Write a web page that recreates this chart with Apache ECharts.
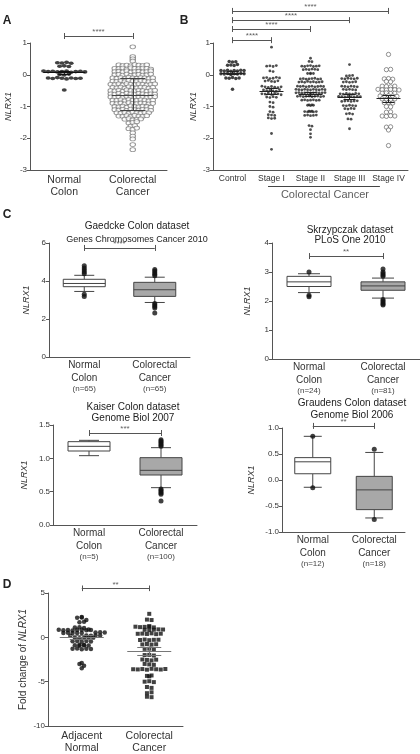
<!DOCTYPE html>
<html>
<head>
<meta charset="utf-8">
<script src="https://cdn.jsdelivr.net/npm/echarts@6/dist/echarts.min.js"></script>
<style>
html, body { margin: 0; padding: 0; background: #fff; }
#chart { width: 420px; height: 754px; }
</style>
</head>
<body>
<div id="chart"></div>
<script>
// ---- panel A
const catsA = ['Normal Colon', 'Colorectal Cancer'];
const normalA = [0.38, 0.37, 0.39, 0.36, 0.27, 0.28, 0.26, 0.12, 0.1, 0.11, 0.09, 0.1, 0.12, 0.08, 0.1, 0.11, 0.09,
  0.01, -0.01, 0.02, -0.1, -0.12, -0.09, -0.11, -0.13, -0.1, -0.12, -0.11, -0.48];
const cancerA = [
  0.88, 0.57, 0.5, 0.43,
  0.31, 0.29, 0.3, 0.28, 0.32, 0.3, 0.29, 0.31,
  0.2, 0.19, 0.21, 0.18, 0.22, 0.2, 0.19, 0.21, 0.2, 0.18,
  0.1, 0.11, 0.09, 0.12, 0.08, 0.1, 0.11, 0.09, 0.1, 0.12,
  0.0, 0.01, -0.01, 0.02, -0.02, 0.0, 0.01, -0.01, 0.0, 0.02,
  -0.1, -0.11, -0.09, -0.12, -0.08, -0.1, -0.11, -0.09, -0.1, -0.12, -0.1,
  -0.2, -0.21, -0.19, -0.22, -0.18, -0.2, -0.21, -0.19, -0.2, -0.22, -0.2,
  -0.3, -0.31, -0.29, -0.32, -0.28, -0.3, -0.31, -0.29, -0.3, -0.32, -0.3, -0.29,
  -0.4, -0.41, -0.39, -0.42, -0.38, -0.4, -0.41, -0.39, -0.4, -0.42, -0.4,
  -0.5, -0.51, -0.49, -0.52, -0.48, -0.5, -0.51, -0.49, -0.5, -0.52, -0.5, -0.49,
  -0.6, -0.61, -0.59, -0.62, -0.58, -0.6, -0.61, -0.59, -0.6, -0.62, -0.6, -0.61,
  -0.7, -0.71, -0.69, -0.72, -0.68, -0.7, -0.71, -0.69, -0.7, -0.72, -0.7, -0.69,
  -0.8, -0.81, -0.79, -0.82, -0.78, -0.8, -0.81, -0.79, -0.8, -0.82, -0.8,
  -0.9, -0.91, -0.89, -0.92, -0.88, -0.9, -0.91, -0.89, -0.9, -0.92, -0.9,
  -1.0, -1.01, -0.99, -1.02, -0.98, -1.0, -1.01, -0.99, -1.0, -1.02,
  -1.1, -1.11, -1.09, -1.12, -1.08, -1.1, -1.11, -1.09, -1.1, -1.12,
  -1.2, -1.21, -1.19, -1.22, -1.18, -1.2, -1.21, -1.19, -1.2,
  -1.3, -1.31, -1.29, -1.32, -1.28, -1.3, -1.31, -1.29,
  -1.4, -1.38, -1.42, -1.41, -1.39,
  -1.52, -1.5, -1.48, -1.62, -1.6, -1.7, -1.72, -1.68,
  -1.83, -1.93, -2.02, -2.2, -2.36
];
const meanA = [0.07, -0.63];
const lowA = [0.03, -1.13];
const highA = [0.11, -0.12];

// ---- panel B
const catsB = ['Control', 'Stage I', 'Stage II', 'Stage III', 'Stage IV'];
const controlB = [0.42, 0.4, 0.41, 0.3, 0.31, 0.29, 0.32, 0.13, 0.12, 0.14, 0.11, 0.13, 0.12, 0.14, 0.13,
  0.03, 0.02, 0.04, 0.01, 0.03, 0.02, 0.04, 0.03, -0.1, -0.11, -0.09, -0.12, -0.1, -0.46];
const stage1B = [0.87, 0.27, 0.28, 0.26, 0.29, 0.12, 0.1,
  -0.1, -0.09, -0.12, -0.11, -0.08, -0.1, -0.2, -0.18, -0.21, -0.22, -0.19,
  -0.36, -0.38, -0.4, -0.37, -0.39, -0.41, -0.38, -0.48, -0.5, -0.49, -0.51, -0.52, -0.47,
  -0.6, -0.61, -0.58, -0.62, -0.59, -0.6, -0.63, -0.7, -0.72, -0.69, -0.71,
  -0.86, -0.88, -1.0, -1.02, -1.16, -1.18, -1.26, -1.27, -1.28, -1.36, -1.38, -1.37, -1.85, -2.35];
const stage2B = [0.52, 0.42, 0.41, 0.27, 0.26, 0.28, 0.29, 0.26, 0.27, 0.28,
  0.16, 0.17, 0.16, 0.18, 0.17, 0.16, 0.04, 0.05, 0.03, 0.04,
  -0.13, -0.12, -0.14, -0.13, -0.12, -0.11, -0.14, -0.13,
  -0.23, -0.22, -0.24, -0.21, -0.23, -0.22, -0.24, -0.23, -0.22,
  -0.36, -0.37, -0.36, -0.38, -0.37, -0.36, -0.38, -0.37, -0.36, -0.37,
  -0.46, -0.47, -0.48, -0.46, -0.47, -0.48, -0.46, -0.47, -0.48, -0.46, -0.47,
  -0.57, -0.56, -0.58, -0.57, -0.56, -0.58, -0.57, -0.56, -0.58, -0.57, -0.56,
  -0.68, -0.67, -0.69, -0.68, -0.67, -0.69, -0.68, -0.67, -0.69, -0.68,
  -0.8, -0.79, -0.81, -0.8, -0.79, -0.81, -0.8,
  -0.96, -0.95, -0.97, -0.96, -0.95,
  -1.16, -1.15, -1.17, -1.16, -1.15, -1.17, -1.16,
  -1.28, -1.27, -1.29, -1.28, -1.27,
  -1.6, -1.62, -1.73, -1.86, -1.97];
const stage3B = [0.32, -0.04, -0.03, -0.02,
  -0.12, -0.13, -0.11, -0.12, -0.13, -0.11, -0.23, -0.22, -0.24, -0.23, -0.22,
  -0.36, -0.37, -0.38, -0.36, -0.37, -0.38, -0.46, -0.47, -0.46, -0.47, -0.48,
  -0.6, -0.61, -0.59, -0.6, -0.61, -0.59, -0.6,
  -0.68, -0.69, -0.7, -0.68, -0.69, -0.7, -0.68, -0.69,
  -0.84, -0.83, -0.82, -0.84, -0.83, -0.82, -0.97, -0.98, -0.96, -0.97, -0.98,
  -1.07, -1.08, -1.06, -1.07, -1.23, -1.22, -1.24, -1.39, -1.4, -1.7];
const stage4B = [0.64, 0.16, 0.17, -0.13, -0.12, -0.14, -0.21, -0.22,
  -0.36, -0.37, -0.38, -0.36, -0.46, -0.47, -0.48, -0.46, -0.47, -0.48,
  -0.58, -0.57, -0.59, -0.58, -0.67, -0.68, -0.66, -0.67, -0.68,
  -0.76, -0.77, -0.78, -0.76, -0.88, -0.87, -0.89, -1.0, -1.01, -1.18, -1.17,
  -1.3, -1.31, -1.29, -1.3, -1.65, -1.64, -1.74, -2.23];
const meanB = [0.06, -0.52, -0.62, -0.7, -0.75];
const lowB = [0.01, -0.62, -0.69, -0.78, -0.86];
const highB = [0.11, -0.42, -0.55, -0.62, -0.64];
const sigB = [1.09, 1.44, 1.72, 2.01];

// ---- panel C (box plots: min, Q1, median, Q3, max)
const catsC = ['Normal Colon', 'Colorectal Cancer'];
const gaedckeN = [65, 65];
const gaedckeBox = [[3.45, 3.7, 3.87, 4.09, 4.3], [2.87, 3.19, 3.54, 3.93, 4.2]];
const gaedckeOut = [[4.38, 4.48, 4.58, 4.68, 4.8, 3.3, 3.18], [4.28, 4.36, 4.44, 4.52, 4.6, 2.82, 2.74, 2.66, 2.58, 2.32]];
const skrzN = [24, 81];
const skrzBox = [[2.29, 2.5, 2.66, 2.85, 2.94], [2.1, 2.37, 2.52, 2.66, 2.79]];
const skrzOut = [[3.0, 2.2, 2.15], [2.85, 2.9, 2.95, 3.0, 3.1, 2.05, 2.0, 1.95, 1.9, 1.86]];
const kaiserN = [5, 100];
const kaiserBox = [[1.04, 1.11, 1.18, 1.25, 1.27], [0.56, 0.75, 0.82, 1.01, 1.16]];
const kaiserOut = [[], [1.18, 1.2, 1.22, 1.24, 1.26, 1.28, 0.54, 0.52, 0.5, 0.48, 0.46, 0.36]];
const graudensN = [12, 18];
const graudensBox = [[-0.14, 0.12, 0.35, 0.43, 0.84], [-0.73, -0.57, -0.19, 0.07, 0.53]];
const graudensOut = [[0.84, -0.15], [0.59, -0.76]];

// ---- panel D
const catsD = ['Adjacent Normal', 'Colorectal Cancer'];
const adjacentD = [2.3, 2.2, 2.25, 1.95, 1.7, 1.75, 1.1, 1.15, 1.05,
  0.85, 0.8, 0.82, 0.88, 0.78, 0.84, 0.86, 0.8, 0.83, 0.5, 0.55, 0.52, 0.48, 0.56, 0.5, 0.54, 0.49,
  0.2, 0.18, 0.22, 0.17, 0.21, -0.05, -0.1, -0.02, -0.08, -0.04, -0.45, -0.4, -0.5, -0.42, -0.48,
  -0.9, -0.85, -0.95, -0.88, -0.92, -0.87, -1.3, -1.25, -1.35, -1.28, -1.32, -2.9, -3.0, -3.2, -3.5];
const colorectalD = [2.65, 2.0, 1.95, 1.2, 1.15, 1.25, 1.18, 1.22, 1.12, 0.85, 0.9, 0.82, 0.88, 0.86,
  0.4, 0.42, 0.38, 0.45, 0.36, 0.41, -0.3, -0.25, -0.32, -0.28, -0.27, -0.8, -0.75, -0.82, -0.78,
  -1.3, -1.28, -1.33, -2.0, -1.98, -2.05, -2.5, -2.55, -2.6, -2.52, -3.0, -3.05, -3.1,
  -3.6, -3.62, -3.58, -3.65, -3.55, -3.6, -3.63, -3.57, -4.4, -4.35, -4.3, -5.0, -4.95, -5.05,
  -5.6, -5.7, -6.3, -6.2, -6.7, -6.75];
const meanD = [0.0, -1.57];
const lowD = [-0.22, -2.02];
const highD = [0.22, -1.12];

const AX = '#555';
const FONT = 'Liberation Sans, Arial, sans-serif';
const grids = [], xAxes = [], yAxes = [], series = [], graphics = [];

function panel(box, cats, yr, label, name) {
  const gi = grids.length;
  grids.push({ left: box[0], top: box[1], width: box[2], height: box[3] });
  xAxes.push({
    type: 'category', gridIndex: gi, data: cats,
    axisLine: { onZero: false, lineStyle: { color: AX } },
    axisTick: { alignWithLabel: true, length: 3, lineStyle: { color: AX } },
    axisLabel: Object.assign({ color: '#333', fontFamily: FONT, interval: 0, hideOverlap: false }, label)
  });
  xAxes.push({ type: 'value', gridIndex: gi, min: -0.5, max: cats.length - 0.5, show: false, axisLine: { onZero: false } });
  const yl = { color: '#333', fontSize: 8, margin: 3, fontFamily: FONT };
  if (yr[3]) yl.formatter = yr[3];
  yAxes.push({
    type: 'value', gridIndex: gi, min: yr[0], max: yr[1], interval: yr[2],
    axisLine: { show: true, onZero: false, lineStyle: { color: AX } },
    axisTick: { show: true, length: 3, lineStyle: { color: AX } },
    splitLine: { show: false },
    axisLabel: yl,
    name: name.text, nameLocation: 'middle', nameGap: name.gap,
    nameTextStyle: Object.assign({ color: '#333', fontSize: 9, fontStyle: 'italic', fontFamily: FONT }, name.style || {})
  });
  return { x: gi * 2 + 1, y: gi, unit: box[2] / cats.length, vpp: (yr[1] - yr[0]) / box[3] };
}

// beeswarm: values are grouped in rows of height `step` and spread sideways
function dots(p, vals, idx, step, gap, style) {
  const rows = new Map();
  vals.forEach(v => {
    const k = Math.round(v / step);
    if (!rows.has(k)) rows.set(k, []);
    rows.get(k).push(v);
  });
  const pts = [];
  rows.forEach(r => r.forEach((v, j) => pts.push([idx + (j - (r.length - 1) / 2) * gap / p.unit, v])));
  series.push(Object.assign({ type: 'scatter', xAxisIndex: p.x, yAxisIndex: p.y, data: pts, silent: true, z: 3 }, style));
}

function segs(p, list, color, width) {
  series.push({
    type: 'lines', coordinateSystem: 'cartesian2d', xAxisIndex: p.x, yAxisIndex: p.y, clip: false, silent: true, z: 5,
    lineStyle: { color: color || '#444', width: width || 1, opacity: 1 },
    data: list.map(c => ({ coords: c }))
  });
}

function label(p, x, y, text, size, dy) {
  series.push({
    type: 'scatter', xAxisIndex: p.x, yAxisIndex: p.y, clip: false, silent: true, symbolSize: 1,
    itemStyle: { color: 'rgba(0,0,0,0)' },
    label: { show: true, position: 'inside', formatter: text, fontSize: size, color: '#333', fontFamily: FONT, offset: [0, dy || 0] },
    data: [[x, y]]
  });
}

function sig(p, i1, i2, yv, stars) {
  const t = 3 * p.vpp;
  segs(p, [[[i1, yv], [i2, yv]], [[i1, yv - t], [i1, yv + t]], [[i2, yv - t], [i2, yv + t]]], '#555');
  label(p, (i1 + i2) / 2, yv, stars, 8, -4);
}

function meanBars(p, i, m, lo, hi, half, cap, color) {
  const h = half / p.unit, c = cap / p.unit;
  segs(p, [[[i - h, m], [i + h, m]], [[i, lo], [i, hi]], [[i - c, lo], [i + c, lo]], [[i - c, hi], [i + c, hi]]], color, 1);
}

// box with whiskers narrower caps (custom series, positions from the axes)
function boxes(p, stats, out, width, capW) {
  const fill = ['#ffffff', '#a8a8a8'];
  stats.forEach((s, i) => {
    series.push({
      type: 'custom', xAxisIndex: p.x, yAxisIndex: p.y, silent: true, z: 2,
      data: [[i].concat(s)],
      renderItem: (params, api) => {
        const c = [1, 2, 3, 4, 5].map(d => api.coord([api.value(0), api.value(d)]));
        const x = c[0][0], hw = width / 2, cw = capW / 2;
        const st = { stroke: '#444', lineWidth: 1 };
        const ln = (x1, y1, x2, y2) => ({ type: 'line', shape: { x1, y1, x2, y2 }, style: st });
        return {
          type: 'group', children: [
            ln(x, c[0][1], x, c[1][1]), ln(x, c[3][1], x, c[4][1]),
            ln(x - cw, c[0][1], x + cw, c[0][1]), ln(x - cw, c[4][1], x + cw, c[4][1]),
            { type: 'rect', shape: { x: x - hw, y: c[3][1], width: width, height: c[1][1] - c[3][1] }, style: { fill: fill[i], stroke: '#444', lineWidth: 1 } },
            ln(x - hw, c[2][1], x + hw, c[2][1])
          ]
        };
      }
    });
    series.push({
      type: 'scatter', xAxisIndex: p.x, yAxisIndex: p.y, silent: true, z: 4, symbolSize: 5,
      itemStyle: { color: '#111' }, data: out[i].map(v => [i, v])
    });
  });
}

function text(x, y, str, size, weight) {
  graphics.push({
    type: 'text', x: x, y: y, silent: true,
    style: { text: str, fontSize: size, fontWeight: weight || 'normal', fontFamily: FONT, fill: '#222', align: 'center', verticalAlign: 'middle' }
  });
}

const twoLine = { fontSize: 10.5, lineHeight: 12, margin: 4, formatter: v => v.replace(' ', '\n') };
function withN(nArr) {
  return {
    margin: 2,
    formatter: (v, i) => v.split(' ').map(w => '{a|' + w + '}').join('\n') + '\n{b|(n=' + nArr[i] + ')}',
    rich: {
      a: { fontSize: 10, lineHeight: 12.5, color: '#333', fontFamily: FONT },
      b: { fontSize: 8, lineHeight: 10, color: '#444', fontFamily: FONT }
    }
  };
}
const dec1 = v => v.toFixed(1);

// A
const pA = panel([30, 43, 137, 127], catsA, [-3, 1, 1], twoLine, { text: 'NLRX1', gap: 17 });
dots(pA, normalA, 0, 0.1, 4.6, { symbolSize: [5, 3.6], itemStyle: { color: '#111' } });
dots(pA, cancerA, 1, 0.1, 4, { symbolSize: [5.5, 4], itemStyle: { color: '#fff', borderColor: '#7a7a7a', borderWidth: 0.9 } });
meanBars(pA, 0, meanA[0], lowA[0], highA[0], 21, 6, '#111');
meanBars(pA, 1, meanA[1], lowA[1], highA[1], 21, 12.5, '#444');
sig(pA, 0, 1, 1.22, '****');

// B
const pB = panel([213, 43, 195, 127], catsB, [-3, 1, 1], { fontSize: 8.5, margin: 4 }, { text: 'NLRX1', gap: 15 });
dots(pB, controlB, 0, 0.1, 3.3, { symbolSize: 3.5, itemStyle: { color: '#111' } });
dots(pB, stage1B, 1, 0.1, 3.2, { symbolSize: 2.8, itemStyle: { color: '#222' } });
dots(pB, stage2B, 2, 0.1, 2.9, { symbolSize: 2.8, itemStyle: { color: '#222' } });
dots(pB, stage3B, 3, 0.1, 3.1, { symbolSize: 2.8, itemStyle: { color: '#222' } });
dots(pB, stage4B, 4, 0.1, 4.2, { symbolSize: 4.3, itemStyle: { color: '#fff', borderColor: '#555', borderWidth: 0.8 } });
meanB.forEach((m, i) => meanBars(pB, i, m, lowB[i], highB[i], 12, 6, '#222'));
sigB.forEach((h, i) => sig(pB, 0, i + 1, h, '****'));
segs(pB, [[[0.91, -3.5], [3.78, -3.5]]], '#444');
label(pB, 2.37, -3.79, 'Colorectal Cancer', 11, 0);

// C
const pC1 = panel([49, 243, 141, 114], catsC, [0, 6, 2], withN(gaedckeN), { text: 'NLRX1', gap: 18 });
boxes(pC1, gaedckeBox, gaedckeOut, 42, 20);
sig(pC1, 0, 1, 5.74, '****');
const pC2 = panel([272, 243, 148, 116], catsC, [0, 4, 1], withN(skrzN), { text: 'NLRX1', gap: 20 });
boxes(pC2, skrzBox, skrzOut, 44, 22);
sig(pC2, 0, 1, 3.55, '**');
const pC3 = panel([53, 425, 144, 100], catsC, [0, 1.5, 0.5, dec1], withN(kaiserN), { text: 'NLRX1', gap: 24 });
boxes(pC3, kaiserBox, kaiserOut, 42, 20);
sig(pC3, 0, 1, 1.38, '***');
const pC4 = panel([282, 428, 123, 104], catsC, [-1, 1, 0.5, dec1], withN(graudensN), { text: 'NLRX1', gap: 26 });
boxes(pC4, graudensBox, graudensOut, 36, 18);
sig(pC4, 0, 1, 1.04, '**');

// D
const pD = panel([48, 593, 135, 142], catsD, [-10, 5, 5], twoLine, {
  text: '{n|Fold change of }{i|NLRX1}', gap: 20,
  style: { fontStyle: 'normal', rich: { n: { fontSize: 10, color: '#333', fontFamily: FONT }, i: { fontSize: 10, fontStyle: 'italic', color: '#333', fontFamily: FONT } } }
});
dots(pD, adjacentD, 0, 0.35, 4.6, { symbolSize: 4.5, itemStyle: { color: '#111' } });
dots(pD, colorectalD, 1, 0.35, 4.6, { symbol: 'rect', symbolSize: 4, itemStyle: { color: '#111' } });
meanBars(pD, 0, meanD[0], lowD[0], highD[0], 22, 12, '#777');
meanBars(pD, 1, meanD[1], lowD[1], highD[1], 22, 12, '#777');
sig(pD, 0, 1, 5.53, '**');

// titles and panel letters
text(7, 21, 'A', 12, 'bold');
text(184, 21, 'B', 12, 'bold');
text(7, 215, 'C', 12, 'bold');
text(7, 585, 'D', 12, 'bold');
text(137, 226, 'Gaedcke Colon dataset', 10);
text(137, 240, 'Genes Chromosomes Cancer 2010', 9);
text(350, 230, 'Skrzypczak dataset', 10);
text(350, 240, 'PLoS One 2010', 10);
text(133, 407, 'Kaiser Colon dataset', 10);
text(133, 418, 'Genome Biol 2007', 10);
text(352, 403, 'Graudens Colon dataset', 10);
text(352, 415, 'Genome Biol 2006', 10);

const chart = echarts.init(document.getElementById('chart'), null, { renderer: 'canvas' });
chart.setOption({
  animation: false,
  backgroundColor: '#fff',
  textStyle: { fontFamily: FONT },
  grid: grids,
  xAxis: xAxes,
  yAxis: yAxes,
  series: series,
  graphic: graphics
});
</script>
</body>
</html>
